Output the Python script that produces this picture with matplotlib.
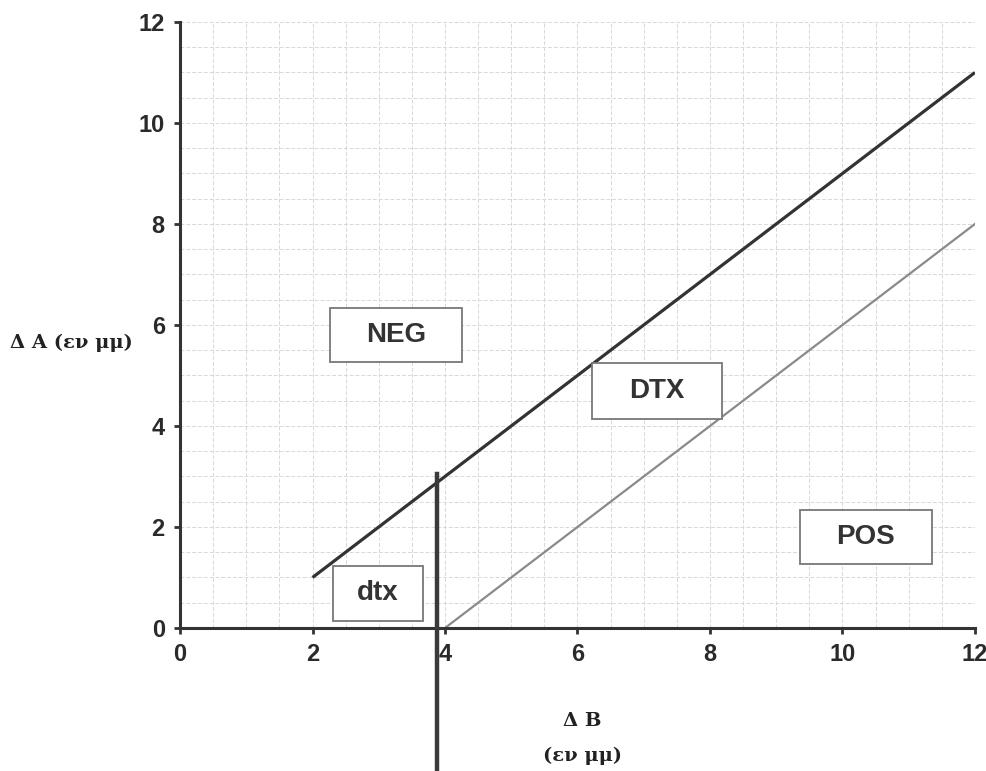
import matplotlib.pyplot as plt
import numpy as np

# upper boundary line
upper_x = [2, 12]
upper_y = [1, 11]
# lower boundary line
lower_x = [4, 12]
lower_y = [0, 8]
# vertical divider
vert_x = [3.88, 3.88]
vert_y = [3.05, -2.8]

# region labels: text, x0, y0, x1, y1
labels = ['NEG', 'DTX', 'POS', 'dtx']
box_x0 = [2.26, 6.22, 9.36, 2.31]
box_x1 = [4.26, 8.18, 11.35, 3.67]
box_y0 = [5.27, 4.14, 1.27, 0.14]
box_y1 = [6.34, 5.25, 2.34, 1.23]

ticks = [0, 2, 4, 6, 8, 10, 12]

fig = plt.figure(figsize=(9.87, 7.71), dpi=100)
ax = fig.add_axes([0.1824, 0.1855, 0.8054, 0.786])

ax.set_xlim(0, 12)
ax.set_ylim(0, 12)
ax.set_xticks(ticks)
ax.set_yticks(ticks)
ax.set_xticks(np.arange(0, 12.01, 0.5), minor=True)
ax.set_yticks(np.arange(0, 12.01, 0.5), minor=True)
ax.grid(which='both', color='#d8d8d8', linestyle=(0, (4, 2)), linewidth=0.7)
ax.set_axisbelow(True)
ax.tick_params(which='minor', length=0)
ax.tick_params(which='major', length=4, width=2, color='#333333', pad=7)

for s in ['top', 'right']:
    ax.spines[s].set_visible(False)
for s in ['left', 'bottom']:
    ax.spines[s].set_linewidth(2.2)
    ax.spines[s].set_color('#333333')

for lab in ax.get_xticklabels() + ax.get_yticklabels():
    lab.set_fontfamily('Liberation Sans')
    lab.set_fontweight('bold')
    lab.set_fontsize(17)
    lab.set_color('#2a2a2a')

ax.plot(upper_x, upper_y, color='#333333', lw=2.3, solid_capstyle='butt')
ax.plot(lower_x, lower_y, color='#8a8a8a', lw=1.6)
ax.plot(vert_x, vert_y, color='#3a3a3a', lw=3.2, clip_on=False, zorder=5)

for t, x0, x1, y0, y1 in zip(labels, box_x0, box_x1, box_y0, box_y1):
    ax.add_patch(plt.Rectangle((x0, y0), x1 - x0, y1 - y0, facecolor='white',
                               edgecolor='#777777', lw=1.3, zorder=3))
    ax.text((x0 + x1) / 2, (y0 + y1) / 2, t, ha='center', va='center',
            fontsize=20, fontweight='bold', color='#333333', zorder=4,
            family='Liberation Sans')

ax.text(-0.71, 5.64, 'Δ A (εν μμ)', ha='right', va='center', fontsize=14,
        fontweight='bold', family='DejaVu Serif', color='#222222')
ax.text(6.07, -1.84, 'Δ B', ha='center', va='center', fontsize=14,
        fontweight='bold', family='DejaVu Serif', color='#222222')
ax.text(6.07, -2.53, '(εν μμ)', ha='center', va='center', fontsize=14,
        fontweight='bold', family='DejaVu Serif', color='#222222')

fig.savefig('out.png', dpi=100)
